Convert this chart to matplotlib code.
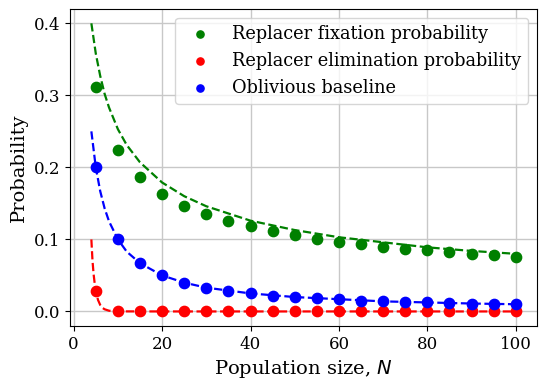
import matplotlib
matplotlib.use("Agg")
import matplotlib.pyplot as plt

plt.rcParams['font.family'] = 'DejaVu Serif'
plt.rcParams['mathtext.fontset'] = 'dejavusans'

# simulated points
N_sim = [5, 10, 15, 20, 25, 30, 35, 40, 45, 50, 55, 60, 65, 70, 75, 80, 85, 90, 95, 100]
fix_sim = [0.311, 0.224, 0.186, 0.163, 0.147, 0.135, 0.126, 0.118, 0.112, 0.106,
           0.101, 0.097, 0.093, 0.090, 0.087, 0.085, 0.082, 0.080, 0.078, 0.076]
elim_sim = [0.029, 0, 0, 0, 0, 0, 0, 0, 0, 0, 0, 0, 0, 0, 0, 0, 0, 0, 0, 0]
obl_sim = [0.200, 0.100, 0.067, 0.050, 0.040, 0.033, 0.029, 0.025, 0.022, 0.020,
           0.018, 0.017, 0.015, 0.014, 0.013, 0.0125, 0.012, 0.011, 0.0105, 0.010]

# dashed reference curves
N_fix = [4, 5, 6, 7, 8, 10, 12, 15, 20, 25, 30, 40, 50, 60, 70, 80, 90, 100]
fix_curve = [0.400, 0.358, 0.327, 0.302, 0.283, 0.253, 0.231, 0.207, 0.179, 0.160,
             0.146, 0.126, 0.113, 0.103, 0.096, 0.089, 0.084, 0.080]
N_obl = [4, 5, 6, 7, 8, 10, 12, 15, 20, 25, 30, 40, 50, 60, 70, 80, 90, 100]
obl_curve = [0.250, 0.200, 0.167, 0.143, 0.125, 0.100, 0.083, 0.067, 0.050, 0.040,
             0.033, 0.025, 0.020, 0.017, 0.014, 0.0125, 0.011, 0.010]
N_elim = [4, 4.25, 4.5, 4.75, 5, 5.5, 6, 6.5, 7, 8, 9, 10, 20, 50, 100]
elim_curve = [0.100, 0.071, 0.052, 0.039, 0.029, 0.016, 0.009, 0.005, 0.003, 0.001,
              0.0003, 0.0001, 0, 0, 0]

fig = plt.figure(figsize=(5.48, 3.87), dpi=100)
ax = fig.add_axes([0.128, 0.158, 0.852, 0.819])

ax.plot(N_fix, fix_curve, '--', color='green', lw=1.6)
ax.plot(N_elim, elim_curve, '--', color='red', lw=1.6)
ax.plot(N_obl, obl_curve, '--', color='blue', lw=1.6)

ax.scatter(N_sim, fix_sim, color='green', s=55, zorder=3, label='Replacer fixation probability')
ax.scatter(N_sim, elim_sim, color='red', s=55, zorder=3, label='Replacer elimination probability')
ax.scatter(N_sim, obl_sim, color='blue', s=55, zorder=3, label='Oblivious baseline')

ax.set_xticks([0, 20, 40, 60, 80, 100])
ax.set_yticks([0.0, 0.1, 0.2, 0.3, 0.4])
ax.tick_params(labelsize=12)
ax.set_xlabel('Population size, $N$', fontsize=14)
ax.set_ylabel('Probability', fontsize=14)
ax.grid(True, color='#c8c8c8', lw=1)
ax.set_axisbelow(True)
ax.legend(fontsize=12.8, markerscale=0.7, loc='upper right')

fig.savefig('out.png', dpi=100)
